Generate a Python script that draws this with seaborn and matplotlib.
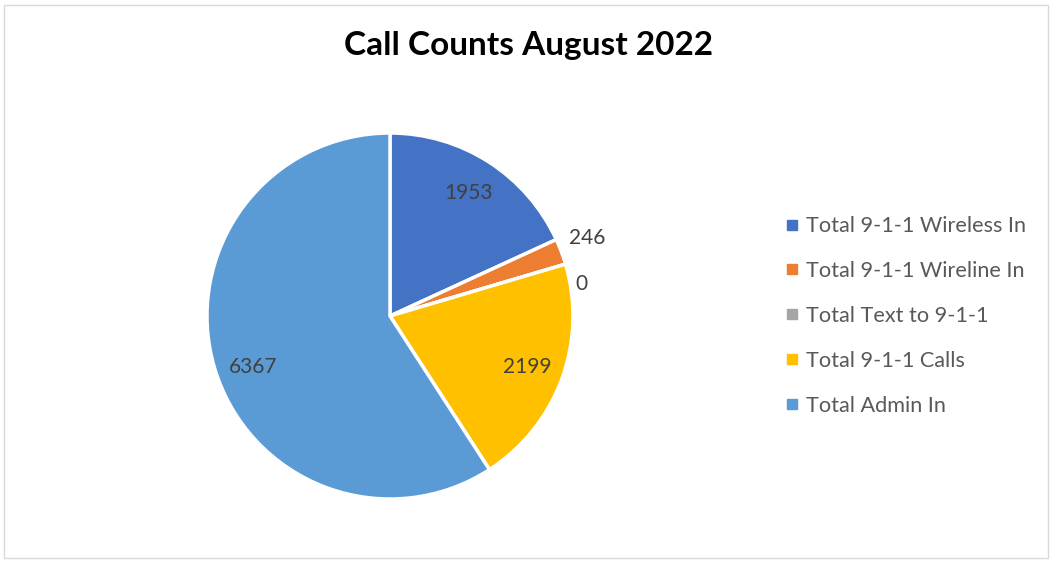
import numpy as np
import seaborn as sns
import matplotlib.pyplot as plt
from matplotlib.patches import Rectangle

categories = ["Total 9-1-1 Wireless In", "Total 9-1-1 Wireline In", "Total Text to 9-1-1",
              "Total 9-1-1 Calls", "Total Admin In"]
counts = [1953, 246, 0, 2199, 6367]
colors = ["#4472C4", "#ED7D31", "#A5A5A5", "#FFC000", "#5B9BD5"]

sns.set_theme(style="white")
plt.rcParams['font.family'] = ['Lato', 'DejaVu Sans']

W, H = 1053, 562
fig = plt.figure(figsize=(W / 100, H / 100), dpi=100)

# light grey chart border
fig.patches.append(Rectangle((4 / W, 4 / H), 1 - 9 / W, 1 - 9 / H, transform=fig.transFigure,
                             fill=False, edgecolor="#D9D9D9", linewidth=1))

cx, cy, r = 390, 316, 183
ax = fig.add_axes([(cx - r) / W, (H - cy - r) / H, 2 * r / W, 2 * r / H])
wedges, _ = ax.pie(counts, colors=colors, startangle=90, counterclock=False,
                   wedgeprops=dict(edgecolor="white", linewidth=2.5, joinstyle="miter"))
ax.set_xlim(-1, 1)
ax.set_ylim(-1, 1)
ax.set_aspect("equal")

# data labels: inside for big slices, outside for small ones
for w, v in zip(wedges, counts):
    ang = (w.theta1 + w.theta2) / 2
    frac = v / sum(counts)
    if frac > 0.5:
        d, ang = 0.8, ang + 4
    elif frac > 0.1:
        d = 0.8
    elif v == 0:
        d, ang = 1.06, ang - 7
    else:
        d, ang = 1.16, ang + 1
    x, y = d * np.cos(np.radians(ang)), d * np.sin(np.radians(ang))
    ax.text(x, y, str(v), ha="center", va="center", fontsize=15, color="#404040")

fig.text(528 / W, 1 - 45 / H, "Call Counts August 2022", ha="center", va="center",
         fontsize=24, fontweight="bold", color="black")

handles = [plt.Line2D([], [], marker="s", linestyle="", markersize=7.5, color=c) for c in colors]
leg = fig.legend(handles, categories, loc="center left", bbox_to_anchor=(768 / W, 1 - 316 / H),
                 frameon=False, fontsize=15.6, labelspacing=1.15, handletextpad=0.05,
                 handlelength=1.2, borderpad=0)
for t in leg.get_texts():
    t.set_color("#595959")

fig.savefig("out.png", dpi=100)
